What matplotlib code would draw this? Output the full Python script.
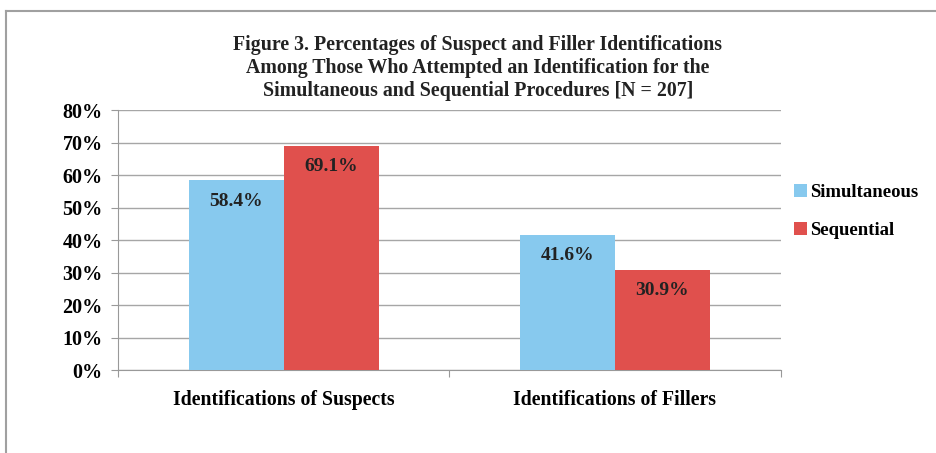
import matplotlib.pyplot as plt
import numpy as np
from matplotlib.lines import Line2D

categories = ['Identifications of Suspects', 'Identifications of Fillers']
simultaneous = [58.4, 41.6]
sequential = [69.1, 30.9]
series_names = ['Simultaneous', 'Sequential']
colors = ['#87C9EE', '#E0504D']

plt.rcParams['font.family'] = ['Liberation Serif', 'DejaVu Serif']
plt.rcParams['font.weight'] = 'bold'

fig = plt.figure(figsize=(9.37, 4.53), dpi=100)
ax = fig.add_axes([0.126, 0.183, 0.707, 0.574])

x = np.arange(len(categories))
w = 0.287
b1 = ax.bar(x - w / 2, simultaneous, w, color=colors[0], label=series_names[0], zorder=3)
b2 = ax.bar(x + w / 2, sequential, w, color=colors[1], label=series_names[1], zorder=3)

for bars, vals in [(b1, simultaneous), (b2, sequential)]:
    for r, v in zip(bars, vals):
        ax.annotate(f'{v:.1f}%', (r.get_x() + r.get_width() / 2, v), xytext=(0, -15),
                    textcoords='offset points', ha='center', va='center',
                    fontsize=14, fontweight='bold', color='#222222', zorder=4)

ax.set_xlim(-0.5, 1.5)
ax.set_ylim(0, 80)
ax.set_yticks(range(0, 81, 10))
ax.set_yticklabels([f'{t}%' for t in range(0, 81, 10)], fontsize=14.5, fontweight='bold')
ax.set_xticks([-0.5, 0.5, 1.5], minor=False)
ax.set_xticklabels([])
ax.set_xticks(x, minor=True)
ax.set_xticklabels(categories, minor=True, fontsize=14.2, fontweight='bold')
ax.tick_params(axis='x', which='minor', length=0, pad=14)
ax.tick_params(axis='x', which='major', length=5, color='#999999')
ax.tick_params(axis='y', length=5, color='#999999', pad=6)
ax.yaxis.grid(True, color='#A6A6A6', linewidth=1, zorder=0)
for s in ['top', 'right']:
    ax.spines[s].set_visible(False)
for s in ['left', 'bottom']:
    ax.spines[s].set_color('#999999')

ax.legend(loc='center left', bbox_to_anchor=(0.995, 0.61), frameon=False,
          handlelength=0.7, handleheight=0.7, handletextpad=0.15,
          labelspacing=1.1, prop={'weight': 'bold', 'size': 13.5})

fig.text(0.51, 0.85, 'Figure 3. Percentages of Suspect and Filler Identifications\n'
         'Among Those Who Attempted an Identification for the\n'
         'Simultaneous and Sequential Procedures [N = 207]',
         ha='center', va='center', fontsize=14.3, fontweight='bold',
         linespacing=1.2, color='#222222')

fig.add_artist(Line2D([0.0065, 1.0], [0.976, 0.976], color='#A0A0A0', lw=1.5))
fig.add_artist(Line2D([0.0065, 0.0065], [0.0, 0.976], color='#A0A0A0', lw=1.5))

fig.savefig('out.png', dpi=100)
